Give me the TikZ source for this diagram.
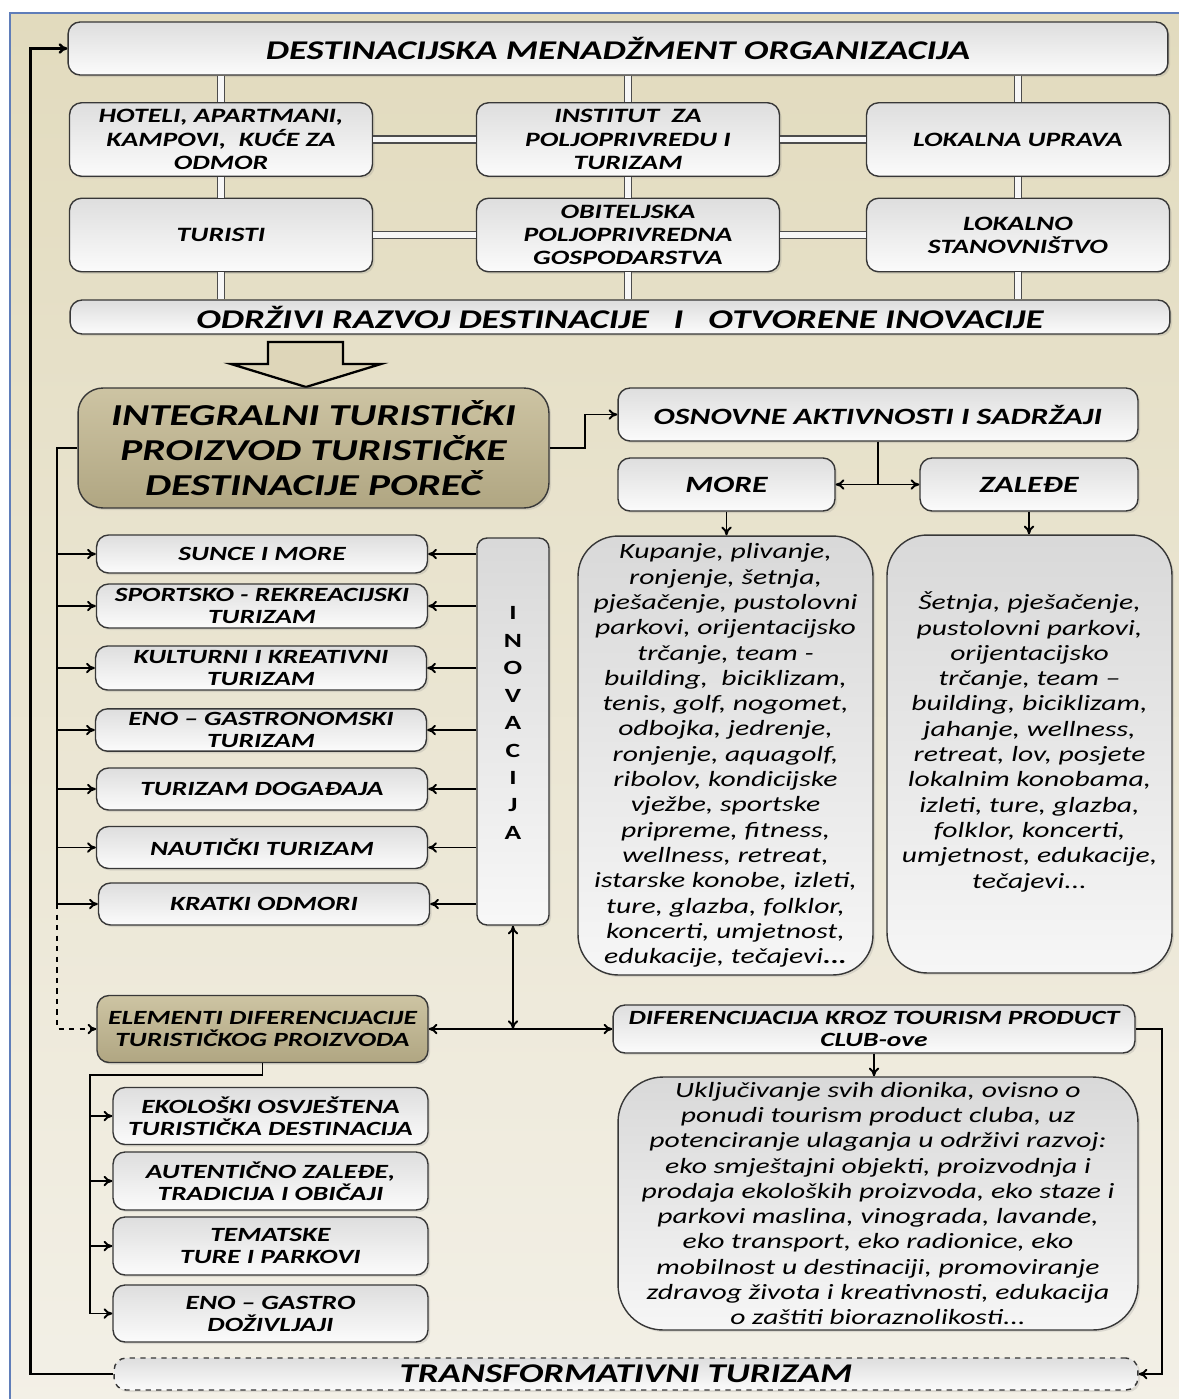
\documentclass[tikz,border=0pt]{standalone}
\usepackage{fontspec}
\setmainfont{Carlito}[FakeStretch=1.36]
\usetikzlibrary{arrows.meta,positioning,shadows}

\definecolor{bgtop}{RGB}{226,219,190}
\definecolor{bgbot}{RGB}{243,240,231}
\definecolor{khakitop}{RGB}{205,196,163}
\definecolor{khakibot}{RGB}{176,166,130}
\definecolor{framecol}{RGB}{95,125,185}
\definecolor{boxline}{RGB}{55,55,55}

\begin{document}
\begin{tikzpicture}
[x=0.02cm, y=-0.02cm, >={To[length=5pt,width=6pt]},
% STYLES
% box is the common look of all rounded boxes
box/.style={rectangle, rounded corners=0.24cm, draw=boxline, line width=0.8pt, top color=gray!26, bottom color=gray!3, align=center, inner sep=2pt, drop shadow={opacity=0.2, shadow xshift=1.2pt, shadow yshift=-1.2pt}},
% titles in the boxes
headfont/.style={font=\bfseries\itshape\fontsize{15.4}{20}\selectfont},
midfont/.style={font=\bfseries\itshape\fontsize{13.3}{15}\selectfont},
smallfont/.style={font=\bfseries\itshape\fontsize{11.6}{13.2}\selectfont},
listfont/.style={font=\bfseries\itshape\fontsize{11.5}{12.5}\selectfont},
bodyfont/.style={font=\itshape\fontsize{12.4}{14.4}\selectfont},
khaki/.style={top color=khakitop, bottom color=khakibot},
txtbox/.style={box, rounded corners=0.8cm, top color=gray!30, bottom color=gray!7, bodyfont},
actor/.style={box, smallfont, minimum width=6.06cm, minimum height=1.47cm},
offer/.style={box, listfont, minimum width=6.62cm},
diff/.style={box, listfont, minimum width=6.3cm, minimum height=1.14cm},
link/.style={draw=gray!60!black, line width=0.7pt, double=gray!6, double distance=3.4pt},
flow/.style={->, line width=1.1pt}]

\useasboundingbox (0,0) rectangle (1179,1399);
% background
\draw[framecol, line width=0.8pt, top color=bgtop, bottom color=bgbot] (10,13) rectangle (1200,1420);

% stakeholders
\node [box, headfont, minimum width=22cm, minimum height=1.06cm] (dmo) at (618,48.5) {DESTINACIJSKA MENADŽMENT ORGANIZACIJA};
\node [actor] (hotel) at (221,139.5) {HOTELI, APARTMANI,\\KAMPOVI,\ \ KUĆE ZA\\ODMOR};
\node [actor] (inst) at (628,139.5) {INSTITUT\ \ ZA\\POLJOPRIVREDU I\\TURIZAM};
\node [actor] (uprava) at (1018,139.5) {LOKALNA UPRAVA};
\node [actor] (turisti) at (221,235) {TURISTI};
\node [actor] (obit) at (628,235) {OBITELJSKA\\POLJOPRIVREDNA\\GOSPODARSTVA};
\node [actor] (stanov) at (1018,235) {LOKALNO\\STANOVNIŠTVO};
\node [box, headfont, minimum width=22cm, minimum height=0.68cm, inner sep=0pt] (odrzivi) at (620,317) {ODRŽIVI RAZVOJ DESTINACIJE\ \ \ I\ \ \ OTVORENE INOVACIJE};

\draw [link] (hotel.north |- dmo.south) -- (hotel.north);
\draw [link] (inst.north |- dmo.south) -- (inst.north);
\draw [link] (uprava.north |- dmo.south) -- (uprava.north);
\draw [link] (hotel) -- (turisti);
\draw [link] (inst) -- (obit);
\draw [link] (uprava) -- (stanov);
\draw [link] (turisti.south) -- (turisti.south |- odrzivi.north);
\draw [link] (obit.south) -- (obit.south |- odrzivi.north);
\draw [link] (stanov.south) -- (stanov.south |- odrzivi.north);
\draw [link] (hotel) -- (inst);
\draw [link] (inst) -- (uprava);
\draw [link] (turisti) -- (obit);
\draw [link] (obit) -- (stanov);

% big hollow arrow
\draw [line width=1.3pt, fill=bgtop!80!khakitop] (268,342) -- (343,342) -- (343,364) -- (381,364) -- (306,387) -- (231,364) -- (268,364) -- cycle;

% product
\node [box, khaki, rounded corners=0.5cm, font=\bfseries\itshape\fontsize{17.3}{20}\selectfont, minimum width=9.42cm, minimum height=2.4cm] (integ) at (313.5,448) {INTEGRALNI TURISTIČKI\\PROIZVOD TURISTIČKE\\DESTINACIJE POREČ};
\node [box, midfont, minimum width=10.4cm, minimum height=1.06cm] (osnov) at (878,414.5) {OSNOVNE AKTIVNOSTI I SADRŽAJI};
\node [box, midfont, minimum width=4.34cm, minimum height=1.06cm] (more) at (726.5,484.5) {MORE};
\node [box, midfont, minimum width=4.36cm, minimum height=1.06cm] (zalede) at (1029,484.5) {ZALEĐE};

\node [txtbox, minimum width=5.9cm, minimum height=8.78cm] (moretxt) at (725.5,755.5) {Kupanje, plivanje,\\ronjenje, šetnja,\\pješačenje, pustolovni\\parkovi, orijentacijsko\\trčanje, team -\\building,\ \ biciklizam,\\tenis, golf, nogomet,\\odbojka, jedrenje,\\ronjenje, aquagolf,\\ribolov, kondicijske\\vježbe, sportske\\pripreme, fitness,\\wellness, retreat,\\istarske konobe, izleti,\\ture, glazba, folklor,\\koncerti, umjetnost,\\edukacije, tečajevi\textbf{...}};
\node [txtbox, minimum width=5.7cm, minimum height=8.76cm] (zaledetxt) at (1029.5,754) {Šetnja, pješačenje,\\pustolovni parkovi,\\orijentacijsko\\trčanje, team –\\building, biciklizam,\\jahanje, wellness,\\retreat, lov, posjete\\lokalnim konobama,\\izleti, ture, glazba,\\folklor, koncerti,\\umjetnost, edukacije,\\tečajevi...\\[1.6pt]};

\draw [flow] (integ.east) -- ++(35,0) |- (osnov.west);
\draw [line width=1.1pt] (osnov.south) -- (osnov.south |- more.east);
\draw [flow, <->] (more) -- (zalede);
\draw [flow] (more.south) -- (more.south |- moretxt.north);
\draw [flow] (zalede.south) -- (zalede.south |- zaledetxt.north);

% forms of tourism
\node [offer, minimum height=0.76cm] (sunce) at (262,554) {SUNCE I MORE};
\node [offer, minimum height=0.88cm] (sport) at (262,606) {SPORTSKO - REKREACIJSKI\\TURIZAM};
\node [offer, minimum height=0.88cm] (kultura) at (261,668) {KULTURNI I KREATIVNI\\TURIZAM};
\node [offer, minimum height=0.8cm] (eno) at (261,730) {ENO – GASTRONOMSKI\\TURIZAM};
\node [offer, minimum height=0.84cm] (dogadaj) at (262,789) {TURIZAM DOGAĐAJA};
\node [offer, minimum height=0.84cm] (nautika) at (262,847.5) {NAUTIČKI TURIZAM};
\node [offer, minimum height=0.84cm] (kratki) at (264,904) {KRATKI ODMORI};
\node [box, rounded corners=0.2cm, top color=gray!30, bottom color=gray!6, minimum width=1.44cm, minimum height=7.74cm, font=\bfseries\fontsize{11.5}{15.6}\selectfont] (inov) at (513,731.5) {I\\N\\O\\V\\A\\C\\I\\J\\A\\[-6pt]};

\coordinate (lbus) at (57,448);
\draw [line width=1.1pt] (integ.west) -- (lbus) -- (lbus |- kratki.west);
\foreach \n in {sunce,sport,kultura,eno,dogadaj,nautika,kratki}
  \draw [flow] (lbus |- \n.west) -- (\n.west);
\foreach \n in {sunce,sport,kultura,eno,dogadaj,nautika,kratki}
  \draw [flow] (inov.west |- \n.east) -- (\n.east);

% differentiation
\node [box, khaki, listfont, minimum width=6.62cm, minimum height=1.34cm] (elem) at (262.5,1029) {ELEMENTI DIFERENCIJACIJE\\TURISTIČKOG PROIZVODA};
\node [box, listfont, minimum width=10.44cm, minimum height=0.96cm, inner sep=1pt] (difer) at (874,1029) {DIFERENCIJACIJA KROZ TOURISM PRODUCT\\CLUB-ove};
\node [txtbox, rounded corners=0.9cm, minimum width=10.4cm, minimum height=5.06cm] (uklj) at (878,1203.5) {Uključivanje svih dionika, ovisno o\\ponudi tourism product cluba, uz\\potenciranje ulaganja u održivi razvoj:\\eko smještajni objekti, proizvodnja i\\prodaja ekoloških proizvoda, eko staze i\\parkovi maslina, vinograda, lavande,\\eko transport, eko radionice, eko\\mobilnost u destinaciji, promoviranje\\zdravog života i kreativnosti, edukacija\\o zaštiti bioraznolikosti...};

\draw [flow, dashed] (lbus |- kratki.west) |- (elem.west);
\draw [flow, <->] (elem) -- (difer);
\draw [flow, <->] (inov.south) -- (inov.south |- elem.east);
\draw [flow] (difer.south) -- (difer.south |- uklj.north);

\node [diff] (eko) at (270.5,1116) {EKOLOŠKI OSVJEŠTENA\\TURISTIČKA DESTINACIJA};
\node [diff, minimum height=1.16cm] (autent) at (270.5,1181) {AUTENTIČNO ZALEĐE,\\TRADICIJA I OBIČAJI};
\node [diff, minimum height=1.16cm] (tema) at (270.5,1246) {TEMATSKE\\TURE I PARKOVI};
\node [diff] (gastro) at (270.5,1313.5) {ENO – GASTRO\\DOŽIVLJAJI};

\coordinate (ebus) at (90,1075);
\draw [line width=1.1pt] (elem.south) |- (ebus) -- (ebus |- gastro.west);
\foreach \n in {eko,autent,tema,gastro}
  \draw [flow] (ebus |- \n.west) -- (\n.west);

% transformation and feedback
\node [box, headfont, dashed, minimum width=20.48cm, minimum height=0.64cm, inner sep=0pt] (transf) at (626,1374) {TRANSFORMATIVNI TURIZAM};
\draw [flow] (difer.east) -- ++(26,0) |- (transf.east);
\draw [flow, line width=1.4pt] (transf.west) -- ++(-83,0) |- (dmo.west);

\end{tikzpicture}
\end{document}
